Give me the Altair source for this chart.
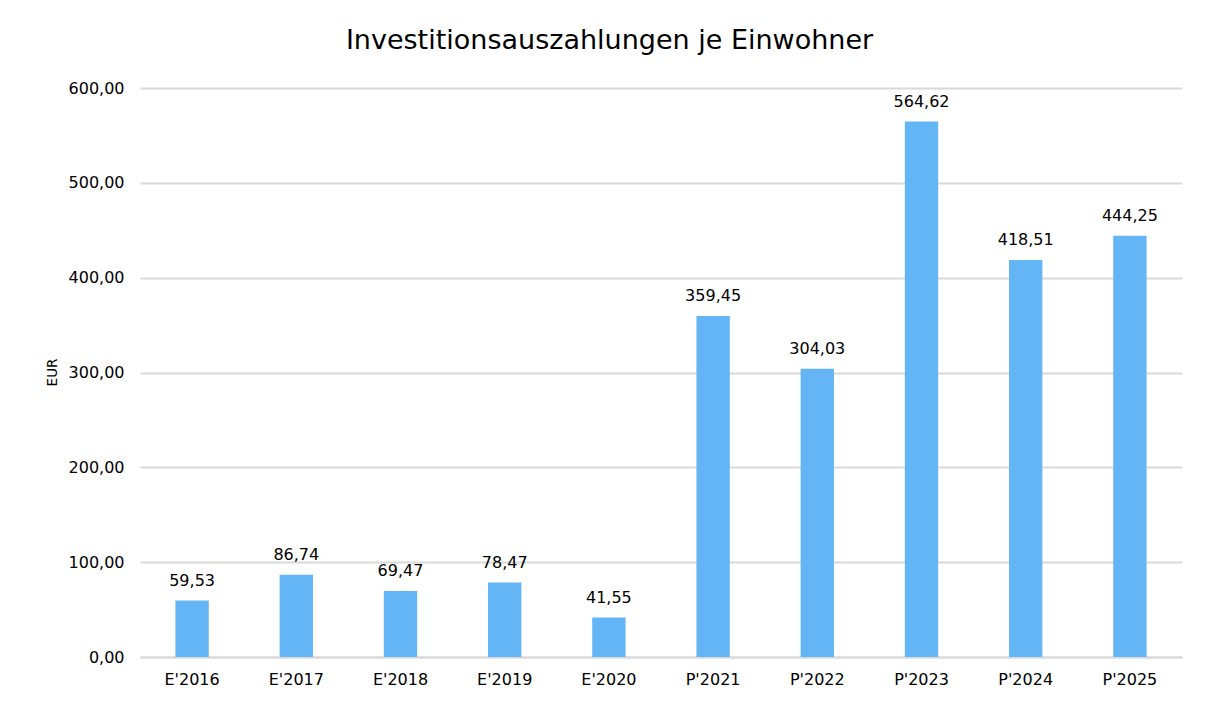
import altair as alt
import pandas as pd

categories = ["E'2016", "E'2017", "E'2018", "E'2019", "E'2020",
              "P'2021", "P'2022", "P'2023", "P'2024", "P'2025"]
values = [59.53, 86.74, 69.47, 78.47, 41.55, 359.45, 304.03, 564.62, 418.51, 444.25]
y_ticks = [0, 100, 200, 300, 400, 500, 600]

df = pd.DataFrame({"Jahr": categories, "Wert": values})

FONT = "DejaVu Sans"
TXT = "#000000"
GRID = "#D9D9D9"

base = alt.Chart(df).encode(
    x=alt.X("Jahr:N", sort=categories,
            scale=alt.Scale(paddingInner=0.68, paddingOuter=0.34),
            axis=alt.Axis(title=None, labelAngle=0, labelFontSize=16, labelFont=FONT,
                          labelColor=TXT, labelPadding=14, ticks=False,
                          domainColor=GRID, domainWidth=2)),
    y=alt.Y("Wert:Q", scale=alt.Scale(domain=[0, 600], nice=False),
            axis=alt.Axis(title="EUR", values=y_ticks, format=".2f", labelFontSize=16,
                          labelFont=FONT, labelColor=TXT, labelPadding=16, ticks=False,
                          domain=False, gridColor=GRID, gridWidth=2,
                          titleFont=FONT, titleFontSize=13.5, titleFontWeight="normal",
                          titleColor=TXT, titleX=-88, titleY=284, titleAngle=-90,
                          titleAlign="center", titleBaseline="middle")),
)

bars = base.mark_bar(color="#64B5F6")
labels = base.mark_text(font=FONT, fontSize=16, color=TXT, baseline="alphabetic", dy=-15).encode(
    text=alt.Text("Wert:Q", format=".2f"))

chart = (bars + labels).properties(
    width=1042, height=569,
    autosize=alt.AutoSizeParams(type="none"),
    padding={"left": 132, "top": 80, "right": 15, "bottom": 30},
    title=alt.TitleParams("Investitionsauszahlungen je Einwohner", font=FONT, fontSize=27,
                          fontWeight="normal", color=TXT, anchor="middle", frame="bounds",
                          offset=25, dx=-4),
).configure(
    locale={"number": {"decimal": ",", "thousands": ".", "grouping": [3], "currency": ["", " €"]}},
    view=alt.ViewConfig(stroke=None),
)

chart.save("out.html", embed_options={"renderer": "svg", "actions": False})
